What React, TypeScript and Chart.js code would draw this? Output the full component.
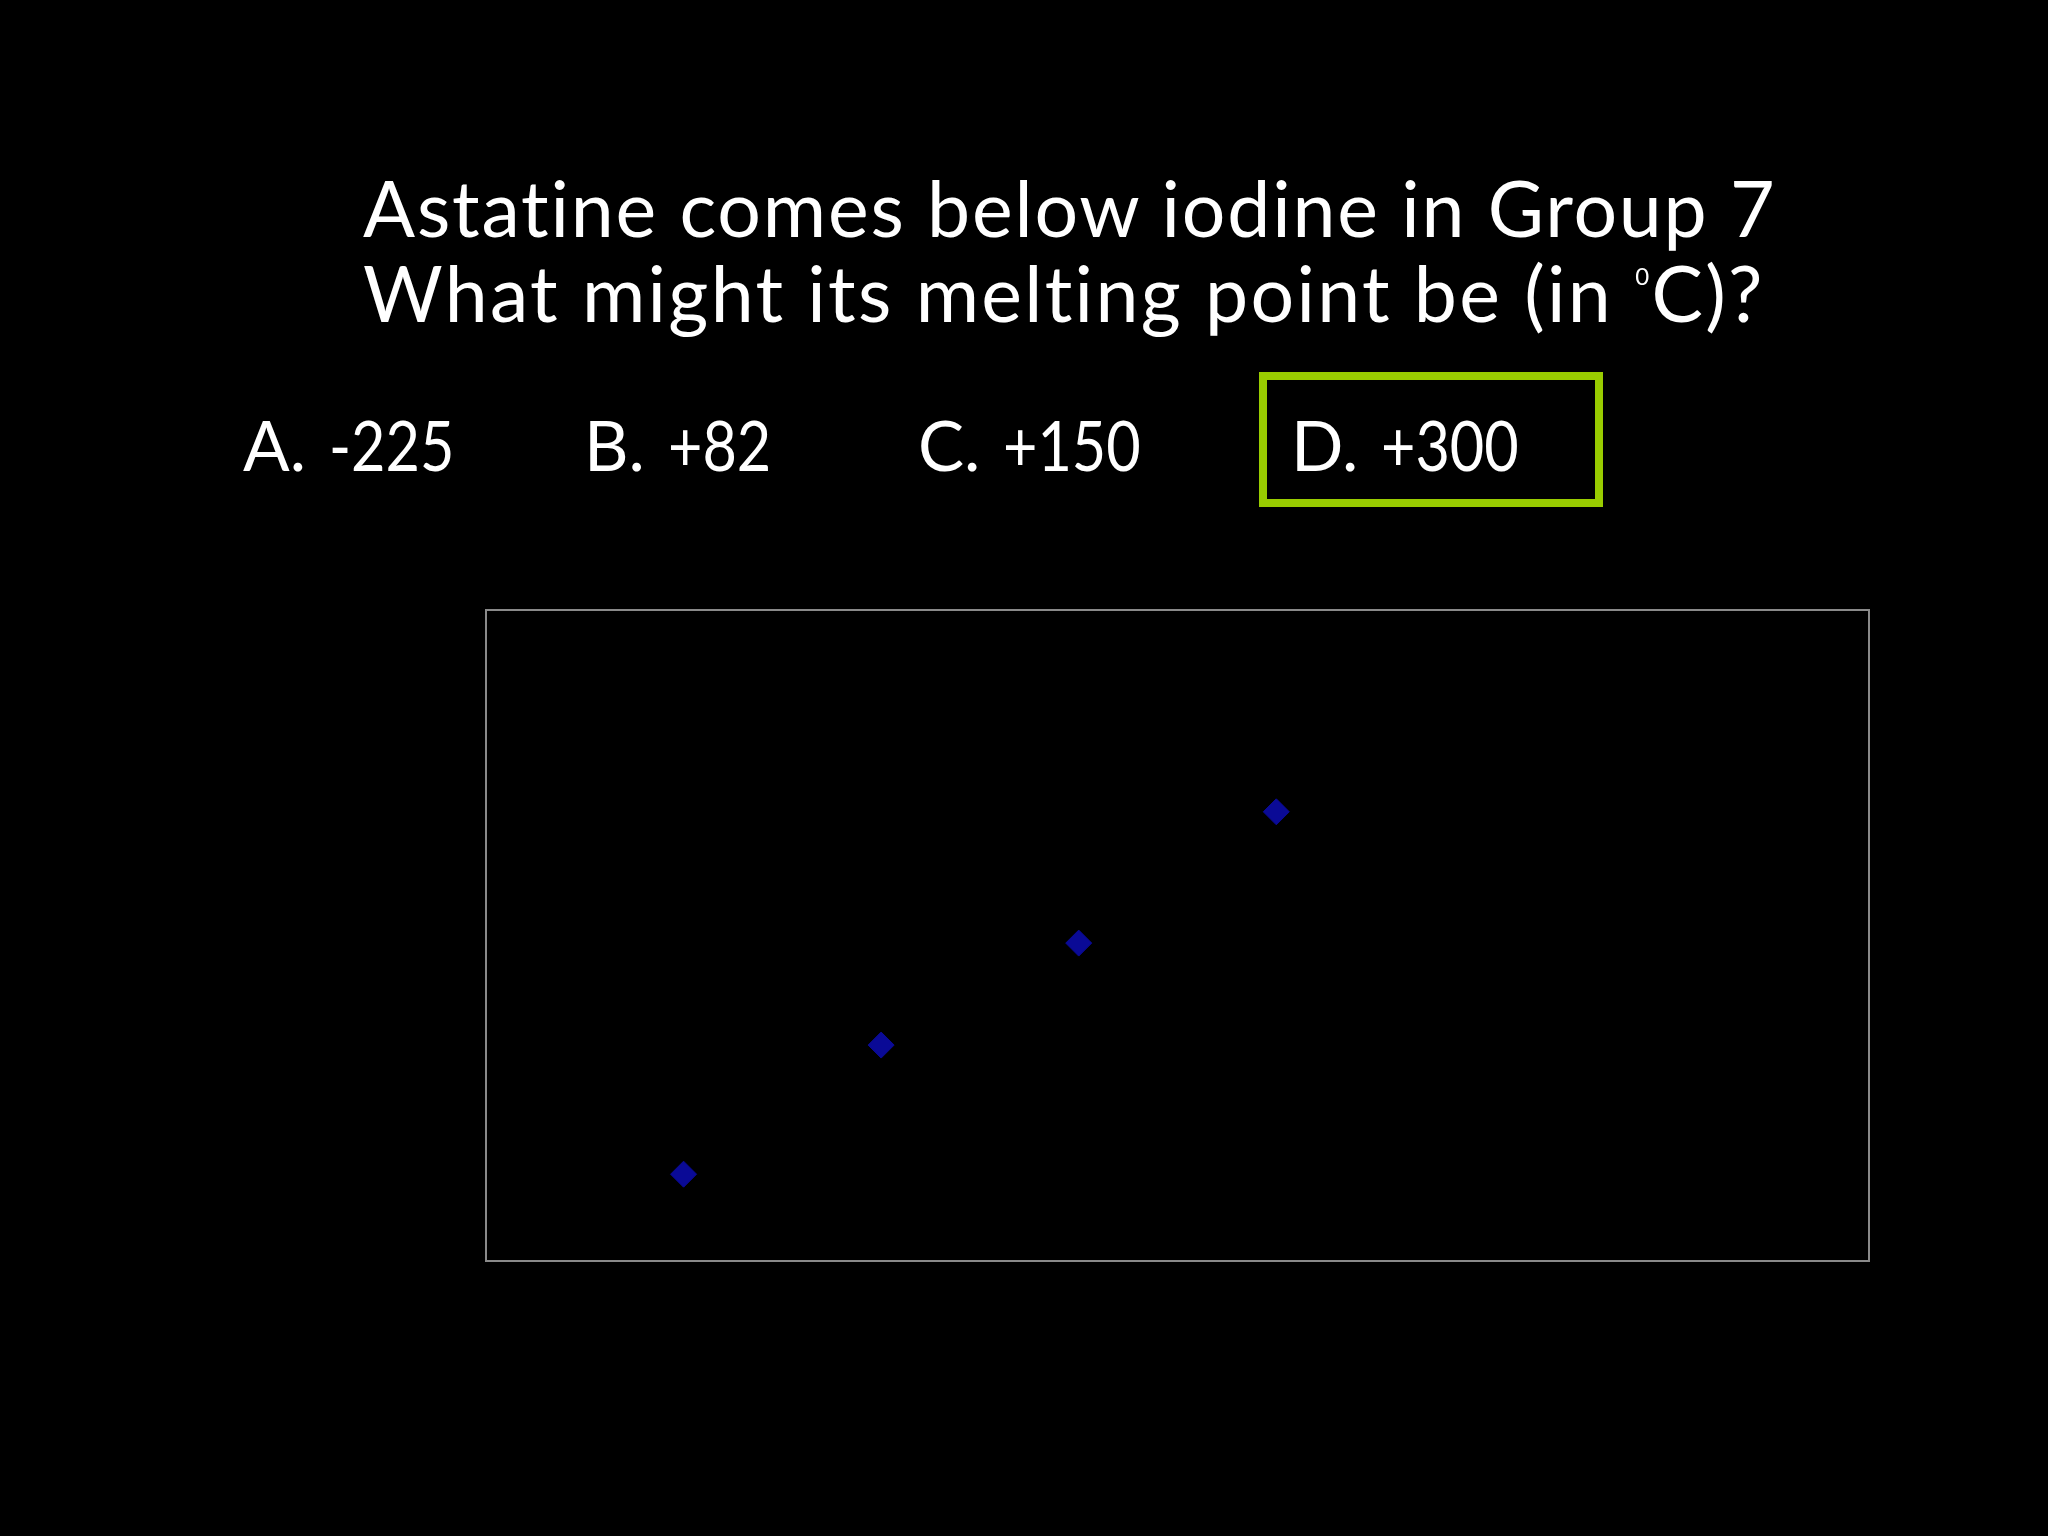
import React, { useEffect, useRef } from "react";
import { Chart, registerables } from "chart.js";

Chart.register(...registerables);

// Halogens (Group 7) melting points in °C, plotted by position down the group
const elements = ["F", "Cl", "Br", "I"];
const positions = [1, 2, 3, 4];
const meltingPoints = [-220, -101, -7, 114];

const xRange = [0, 7];
const yRange = [-300, 300];

const titleLines = ["Astatine comes below iodine in Group 7", "What might its melting point be (in "];
const optionLetters = ["A.", "B.", "C.", "D."];
const optionValues = ["-225", "+82", "+150", "+300"];

const FONT = "Lato, 'Open Sans', sans-serif";

const borderPlugin = {
  id: "plotBorder",
  afterDraw(chart: any) {
    const { ctx, chartArea } = chart;
    ctx.save();
    ctx.strokeStyle = "#8a8a8a";
    ctx.lineWidth = 2;
    ctx.strokeRect(chartArea.left, chartArea.top, chartArea.right - chartArea.left, chartArea.bottom - chartArea.top);
    ctx.restore();
  },
};

export default function App() {
  const canvasRef = useRef<HTMLCanvasElement | null>(null);

  useEffect(() => {
    document.body.style.background = "#000";
    const canvas = canvasRef.current;
    if (!canvas) return;
    const chart = new Chart(canvas, {
      type: "scatter",
      data: {
        labels: elements,
        datasets: [
          {
            label: "Melting point",
            data: positions.map((x, i) => ({ x, y: meltingPoints[i] })),
            pointStyle: "rectRot",
            pointRadius: 13,
            pointBackgroundColor: "#0a0a96",
            pointBorderColor: "#0a0a96",
            pointBorderWidth: 1,
          },
        ],
      },
      options: {
        responsive: false,
        animation: false,
        layout: { padding: { left: 486, top: 610, right: 179, bottom: 275 } },
        plugins: { legend: { display: false }, tooltip: { enabled: false } },
        scales: {
          x: { type: "linear", min: xRange[0], max: xRange[1], display: false },
          y: { type: "linear", min: yRange[0], max: yRange[1], display: false },
        },
      },
      plugins: [borderPlugin],
    });
    return () => chart.destroy();
  }, []);

  const optionLeft = [243, 584, 918, 1291];

  return (
    <div style={{ position: "absolute", left: 0, top: 0, width: 2048, height: 1536, background: "#000", overflow: "hidden" }}>
      <canvas ref={canvasRef} width={2048} height={1536} style={{ position: "absolute", left: 0, top: 0, width: 2048, height: 1536 }} />
      <div style={{ position: "absolute", left: 363, top: 165, color: "#fff", fontFamily: FONT, fontSize: 77, lineHeight: "85px", whiteSpace: "nowrap", fontVariantLigatures: "none" }}>
        <div style={{ letterSpacing: 1.8 }}>{titleLines[0]}</div>
        <div style={{ letterSpacing: 2.3 }}>
          {titleLines[1]}
          <span style={{ fontSize: 24, position: "relative", top: -37 }}>0</span>C)?
        </div>
      </div>
      {optionLetters.map((l, i) => (
        <div key={l} style={{ position: "absolute", left: optionLeft[i], top: 410, color: "#fff", fontFamily: FONT, fontSize: 69, lineHeight: "69px", whiteSpace: "nowrap" }}>
          {l}
          <span style={{ display: "inline-block", marginLeft: 23, transform: "scaleX(0.86)", transformOrigin: "left center" }}>{optionValues[i]}</span>
        </div>
      ))}
      <div style={{ position: "absolute", left: 1259, top: 372, width: 344 - 16, height: 135 - 16, border: "8px solid #99cc00" }} />
    </div>
  );
}
